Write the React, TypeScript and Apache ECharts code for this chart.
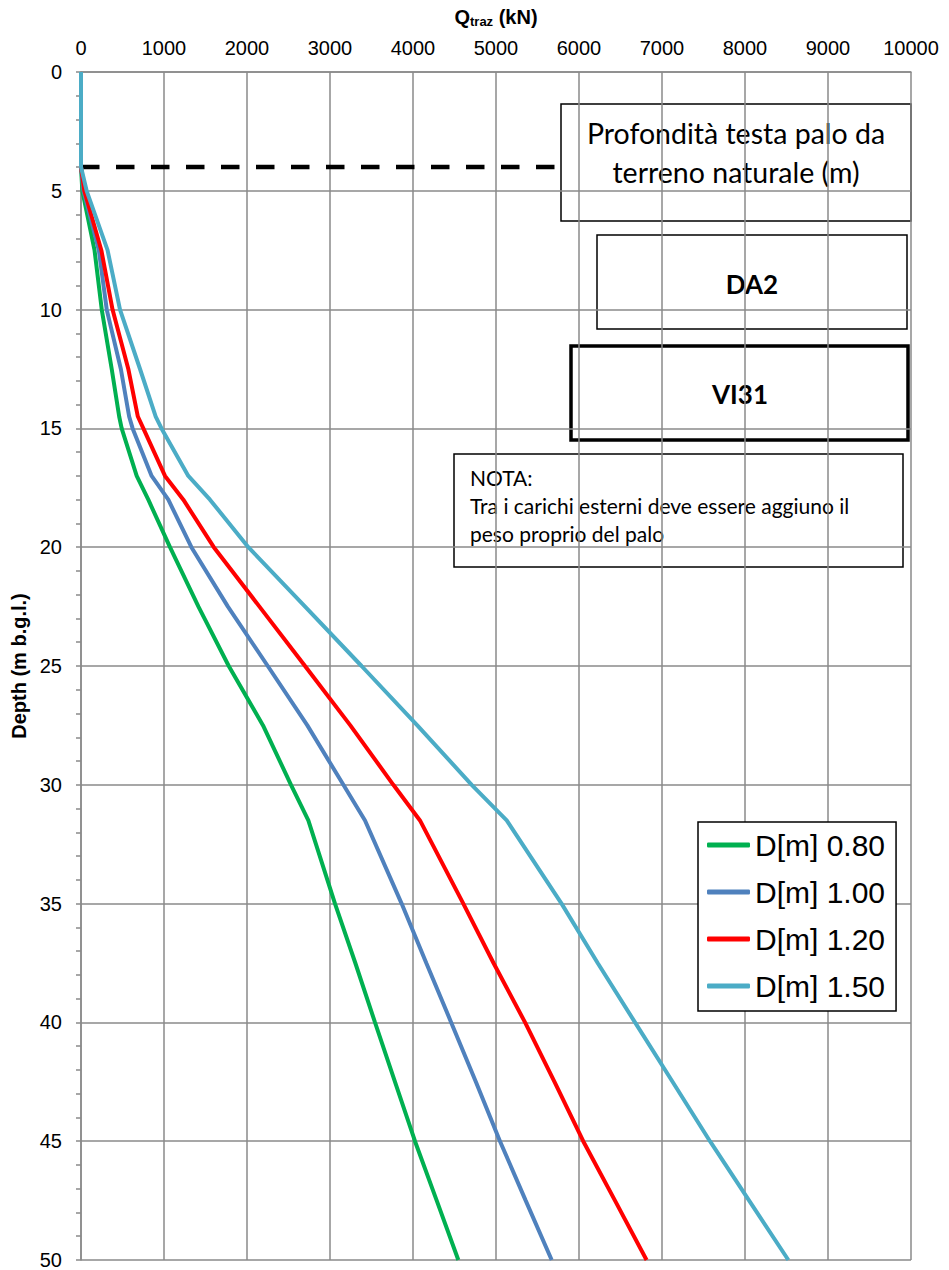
import React, { useEffect, useRef } from "react";
import * as echarts from "echarts";

// Depth below ground level (m) at which the tension capacity is sampled
const depth = [0, 4, 5, 7.5, 10, 12.5, 14.5, 15, 17, 18, 20, 22.5, 25, 27.5, 30, 31.5, 35, 37.5, 40, 42.5, 45, 47.5, 50];

// Tension capacity Q_traz (kN) for each pile diameter
const qD080 = [0, 0, 16, 163, 250, 370, 460, 490, 671, 811, 1072, 1415, 1780, 2193, 2530, 2739, 3060, 3305, 3542, 3783, 4024, 4286, 4546];
const qD100 = [0, 0, 30, 215, 310, 480, 580, 622, 851, 1052, 1330, 1770, 2250, 2727, 3161, 3422, 3863, 4160, 4460, 4757, 5048, 5358, 5671];
const qD120 = [0, 0, 40, 245, 380, 570, 685, 751, 1012, 1233, 1600, 2150, 2699, 3245, 3763, 4084, 4606, 4970, 5350, 5705, 6051, 6434, 6814];
const qD150 = [0, 0, 68, 320, 470, 711, 900, 970, 1293, 1554, 2016, 2700, 3380, 4052, 4707, 5129, 5790, 6225, 6675, 7127, 7578, 8050, 8522];

const seriesNames = ["D[m] 0.80", "D[m] 1.00", "D[m] 1.20", "D[m] 1.50"];
const seriesColors = ["#00B050", "#4F81BD", "#FF0000", "#4BACC6"];
const seriesValues = [qD080, qD100, qD120, qD150];

// Pile head depth from natural ground (m), drawn as a dashed reference
const pileHeadDepth = 4;
const pileHeadLineEnd = 5800;

const GRID = "#8a8a8a";
const SANS = "'Liberation Sans', Arial, sans-serif";
const NOTE_FONT = "Lato, 'Open Sans', sans-serif";

export default function App() {
  const ref = useRef<HTMLDivElement>(null);

  useEffect(() => {
    if (!ref.current) return;
    const chart = echarts.init(ref.current, undefined, { renderer: "svg" });

    const curves = seriesValues.map((vals, k) => ({
      name: seriesNames[k],
      type: "line",
      data: depth.map((d, i) => [vals[i], d]),
      symbol: "none",
      showSymbol: false,
      lineStyle: { color: seriesColors[k], width: 4 },
      itemStyle: { color: seriesColors[k] },
      z: 3,
    }));

    chart.setOption({
      animation: false,
      backgroundColor: "#ffffff",
      textStyle: { fontFamily: SANS },
      grid: { left: 81, top: 72, width: 830, height: 1192, containLabel: false },
      xAxis: {
        type: "value",
        position: "top",
        min: 0,
        max: 10000,
        interval: 1000,
        name: "{q|Q}{s|traz}{q| (kN)}",
        nameLocation: "middle",
        nameGap: 44,
        nameTextStyle: {
          rich: {
            q: { fontSize: 20, fontWeight: "bold", color: "#000", fontFamily: SANS },
            s: { fontSize: 13, fontWeight: "bold", color: "#000", fontFamily: SANS, padding: [9, 0, 0, 0] },
          },
        },
        axisLine: { show: true, lineStyle: { color: GRID, width: 1.5 } },
        axisTick: { show: false },
        axisLabel: {
          fontSize: 20,
          color: "#000",
          margin: 14,
          fontFamily: SANS,
          formatter: (v: number) => String(v),
        },
        splitLine: { show: true, lineStyle: { color: GRID, width: 1.5 } },
      },
      yAxis: {
        type: "value",
        inverse: true,
        min: 0,
        max: 50,
        interval: 5,
        name: "Depth (m b.g.l.)",
        nameLocation: "middle",
        nameGap: 47,
        nameTextStyle: { fontSize: 20, fontWeight: "bold", color: "#000", fontFamily: SANS },
        axisLine: { show: true, lineStyle: { color: GRID, width: 1.5 } },
        axisTick: { show: true, length: 5, lineStyle: { color: GRID, width: 1.5 } },
        minorTick: { show: true, splitNumber: 5, length: 5, lineStyle: { color: GRID, width: 1.5 } },
        axisLabel: { fontSize: 20, color: "#000", margin: 19, fontFamily: SANS },
        splitLine: { show: true, lineStyle: { color: GRID, width: 1.5 } },
      },
      legend: {
        data: seriesNames.map((n) => ({ name: n, icon: "roundRect" })),
        orient: "vertical",
        left: 698,
        top: 822,
        padding: [8, 11, 10, 9],
        itemGap: 17,
        itemWidth: 43,
        itemHeight: 5,
        backgroundColor: "#ffffff",
        borderColor: "#000",
        borderWidth: 1.5,
        borderRadius: 0,
        textStyle: { fontSize: 30, lineHeight: 30, color: "#000", fontFamily: SANS },
        z: 10,
      },
      series: [
        {
          name: "pile-head",
          type: "line",
          data: [
            [0, pileHeadDepth],
            [pileHeadLineEnd, pileHeadDepth],
          ],
          symbol: "none",
          lineStyle: { color: "#000", width: 4.5, type: [18.5, 16.5] },
          z: 2,
          silent: true,
        },
        ...curves,
      ],
      graphic: [
        {
          type: "group",
          z: 100,
          children: [
            {
              type: "rect",
              shape: { x: 561, y: 104, width: 350, height: 117 },
              style: { fill: "#fff", stroke: "#000", lineWidth: 1.5 },
            },
            {
              type: "text",
              x: 736,
              y: 113,
              style: {
                text: "Profondità testa palo da\nterreno naturale (m)",
                fontSize: 28.5,
                lineHeight: 39,
                fontFamily: NOTE_FONT,
                fill: "#000",
                align: "center",
                verticalAlign: "top",
              },
            },
            {
              type: "rect",
              shape: { x: 597, y: 235, width: 310, height: 94 },
              style: { fill: "#fff", stroke: "#000", lineWidth: 1.5 },
            },
            {
              type: "text",
              x: 752,
              y: 284,
              style: {
                text: "DA2",
                fontSize: 26,
                fontWeight: "bold",
                fontFamily: NOTE_FONT,
                fill: "#000",
                align: "center",
                verticalAlign: "middle",
              },
            },
            {
              type: "rect",
              shape: { x: 571, y: 346, width: 337, height: 94 },
              style: { fill: "#fff", stroke: "#000", lineWidth: 3.5 },
            },
            {
              type: "text",
              x: 740,
              y: 394,
              style: {
                text: "VI31",
                fontSize: 26,
                fontWeight: "bold",
                fontFamily: NOTE_FONT,
                fill: "#000",
                align: "center",
                verticalAlign: "middle",
              },
            },
            {
              type: "rect",
              shape: { x: 454, y: 454, width: 449, height: 113 },
              style: { fill: "#fff", stroke: "#000", lineWidth: 1.5 },
            },
            {
              type: "text",
              x: 470,
              y: 463,
              style: {
                text: "NOTA:\nTra i carichi esterni deve essere aggiuno il\npeso proprio del palo",
                fontSize: 21,
                lineHeight: 28,
                fontFamily: NOTE_FONT,
                fill: "#000",
                align: "left",
                verticalAlign: "top",
              },
            },
          ],
        },
      ],
    });

    return () => chart.dispose();
  }, []);

  return (
    <div
      ref={ref}
      style={{ position: "absolute", left: 0, top: 0, width: 949, height: 1270 }}
    />
  );
}
